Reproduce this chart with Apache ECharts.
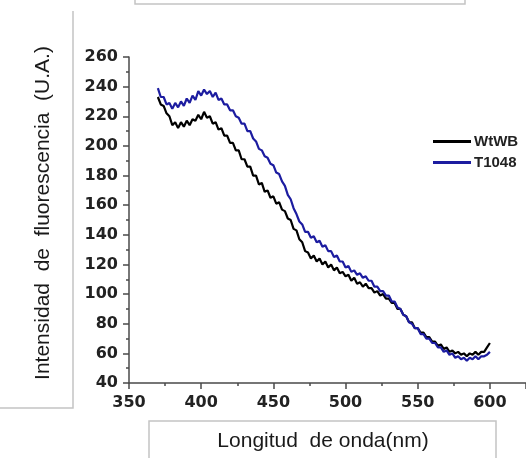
<!DOCTYPE html>
<html><head><meta charset="utf-8">
<script src="https://cdn.jsdelivr.net/npm/echarts@6/dist/echarts.min.js"></script>
<style>html,body{margin:0;padding:0;background:#fff}#c{width:526px;height:458px}</style>
</head><body><div id="c"></div>
<script>
var wavelengths = [370,372,374,376,378,380,382,384,386,388,390,392,394,396,398,400,402,404,406,408,410,412,414,416,418,420,422,424,426,428,430,432,434,436,438,440,442,444,446,448,450,452,454,456,458,460,462,464,466,468,470,472,474,476,478,480,482,484,486,488,490,492,494,496,498,500,502,504,506,508,510,512,514,516,518,520,522,524,526,528,530,532,534,536,538,540,542,544,546,548,550,552,554,556,558,560,562,564,566,568,570,572,574,576,578,580,582,584,586,588,590,592,594,596,598,600];
var wtwb = [233,228,227,222,220,214,216,212,216,213,
  217,214,218,217,221,218,223,219,220,215,
  216,211,212,207,207,202,202,197,197,191,
  191,186,186,180,180,174,175,169,170,165,
  166,161,162,157,156,151,150,144,143,137,
  135,129,128,124,126,122,124,120,122,118,
  120,116,118,114,115,112,113,109,111,107,
  108,105,107,104,104,101,102,99,100,97,
  97,94,94,90,90,86,85,81,81,77,
  77,74,74,71,71,68,68,65,66,63,
  64,61,62,60,61,59,60,58,60,59,
  61,59,61,61,64,67];
var t1048 = [239,233,233,228,229,225,229,226,230,227,
  232,229,234,231,237,234,238,235,237,233,
  236,231,232,228,228,224,224,220,219,215,
  215,210,210,205,203,198,197,193,192,188,
  187,182,181,176,173,167,164,158,154,149,
  147,142,142,138,139,135,136,132,133,129,
  129,125,126,122,122,118,119,115,116,113,
  114,111,112,109,109,105,105,102,102,99,
  99,95,95,91,90,86,85,81,80,77,
  77,73,73,70,70,67,67,64,64,61,
  62,59,60,57,58,56,57,55,57,56,
  58,56,58,58,59,61];
var seriesNames = ['WtWB','T1048'];
var xTitle = 'Longitud  de onda(nm)';
var yTitle = 'Intensidad  de  fluorescencia  (U.A.)';

function pairs(xs, ys){ return xs.map(function(x,i){ return [x, ys[i]]; }); }

var chart = echarts.init(document.getElementById('c'), null, {renderer:'canvas'});
var tickFont = {fontFamily:'DejaVu Sans', fontWeight:'bold', fontSize:16, color:'#222'};
var axisCol = '#4a4a4a';
chart.setOption({
  animation:false,
  backgroundColor:'#fff',
  grid:{left:129, top:57, width:398, height:326, containLabel:false},
  legend:{
    orient:'vertical', left:433, top:134, padding:0, itemWidth:38, itemHeight:3, itemGap:6,
    icon:'rect',
    textStyle:{fontFamily:'Liberation Sans', fontWeight:'bold', fontSize:15, color:'#222', lineHeight:15, padding:[0,0,0,-2]},
    data:seriesNames
  },
  xAxis:{
    type:'value', min:350, max:625, interval:50,
    axisLine:{lineStyle:{color:axisCol, width:1.5}},
    axisTick:{inside:false, length:6, lineStyle:{color:axisCol, width:1.5}},
    minorTick:{show:true, splitNumber:2, length:3, lineStyle:{color:axisCol, width:1.5}},
    splitLine:{show:false},
    axisLabel:Object.assign({margin:12, showMaxLabel:false}, tickFont)
  },
  yAxis:{
    type:'value', min:40, max:260, interval:20,
    axisLine:{show:true, lineStyle:{color:axisCol, width:1.5}},
    axisTick:{show:true, inside:false, length:6, lineStyle:{color:axisCol, width:1.5}},
    minorTick:{show:true, splitNumber:2, length:3, lineStyle:{color:axisCol, width:1.5}},
    splitLine:{show:false},
    axisLabel:Object.assign({margin:11}, tickFont)
  },
  series:[
    {name:seriesNames[0], type:'line', data:pairs(wavelengths, wtwb), showSymbol:false, symbol:'none',
     lineStyle:{color:'#000', width:2.2}, itemStyle:{color:'#000'}, z:2},
    {name:seriesNames[1], type:'line', data:pairs(wavelengths, t1048), showSymbol:false, symbol:'none',
     lineStyle:{color:'#1c1ca0', width:2.2}, itemStyle:{color:'#1c1ca0'}, z:3}
  ],
  graphic:[
    {type:'rect', shape:{x:135, y:-20, width:330, height:24}, style:{fill:null, stroke:'#c4c4c4', lineWidth:1.5}},
    {type:'polyline', shape:{points:[[73,11],[73,408],[-5,408]]}, style:{fill:null, stroke:'#c4c4c4', lineWidth:1.5}},
    {type:'rect', shape:{x:149, y:421, width:347, height:60}, style:{fill:null, stroke:'#c4c4c4', lineWidth:1.5}},
    {type:'text', x:323, y:441, style:{text:xTitle, fontFamily:'Liberation Sans', fontSize:21, fill:'#1a1a1a', textAlign:'center', textVerticalAlign:'middle'}},
    {type:'text', x:43, y:213, rotation:Math.PI/2, style:{text:yTitle, fontFamily:'Liberation Sans', fontSize:21, fill:'#1a1a1a', textAlign:'center', textVerticalAlign:'middle'}}
  ]
});
</script></body></html>
